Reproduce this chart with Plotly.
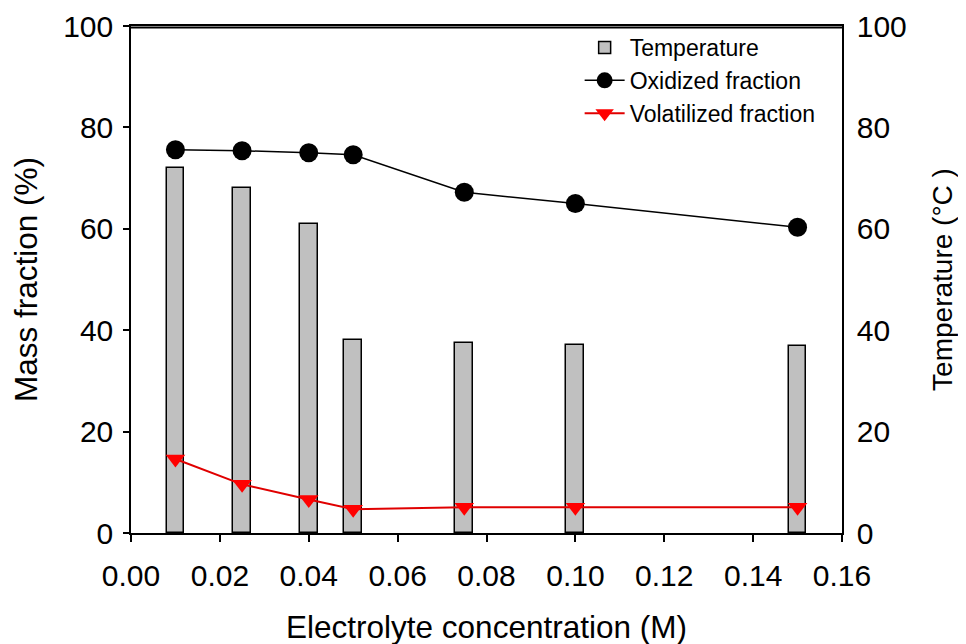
import plotly.graph_objects as go

concentration = [0.01, 0.025, 0.04, 0.05, 0.075, 0.10, 0.15]
temperature = [72.0, 68.0, 61.0, 38.0, 37.5, 37.0, 36.8]
oxidized = [75.6, 75.4, 75.0, 74.6, 67.2, 65.0, 60.3]
volatilized = [14.6, 9.6, 6.6, 4.7, 5.1, 5.1, 5.1]

x_ticks = [0.00, 0.02, 0.04, 0.06, 0.08, 0.10, 0.12, 0.14, 0.16]
y_ticks = [0, 20, 40, 60, 80, 100]

FONT = "Liberation Sans, Arial, sans-serif"

fig = go.Figure()
fig.add_trace(go.Bar(
    x=concentration, y=temperature, name="Temperature", width=0.004,
    marker=dict(color="#c0c0c0", line=dict(color="black", width=1.5)),
    yaxis="y",
))
fig.add_trace(go.Scatter(
    x=concentration, y=oxidized, name="Oxidized fraction", mode="lines+markers",
    line=dict(color="black", width=1.5),
    marker=dict(symbol="circle", size=19, color="black"),
    yaxis="y2",
))
fig.add_trace(go.Scatter(
    x=concentration, y=volatilized, name="Volatilized fraction", mode="lines+markers",
    line=dict(color="#e00000", width=2),
    marker=dict(symbol="triangle-down", size=17, color="#ff0000"),
    yaxis="y2",
))

fig.update_layout(
    width=966, height=644,
    margin=dict(l=123, r=132, t=18, b=119, autoexpand=False),
    paper_bgcolor="white", plot_bgcolor="white",
    font=dict(family=FONT, size=30, color="black"),
    showlegend=True,
    legend=dict(x=0.631, y=1.0, xanchor="left", yanchor="top",
                font=dict(size=23), bgcolor="rgba(0,0,0,0)", borderwidth=0,
                tracegroupgap=0, itemwidth=40),
    bargap=0,
    xaxis=dict(
        range=[0, 0.16], tickvals=x_ticks, tickformat=".2f", automargin=False,
        showline=True, linecolor="black", linewidth=1.5, mirror=True,
        ticks="outside", ticklen=7, tickcolor="black", tickwidth=1.5,
        ticklabelstandoff=8, ticklabeloverflow="allow",
        showgrid=False, zeroline=False,
        title=dict(text="Electrolyte concentration (M)", font=dict(size=31.5), standoff=25),
    ),
    yaxis=dict(
        range=[0, 100], tickvals=y_ticks, side="right", automargin=False,
        showline=True, linecolor="black", linewidth=1.5,
        ticks="", showgrid=False, zeroline=False, ticklabelstandoff=7,
        ticklabeloverflow="allow",
        title=dict(text="Temperature (°C )", font=dict(size=28), standoff=27),
    ),
    yaxis2=dict(
        range=[0, 100], tickvals=y_ticks, side="left", overlaying="y", automargin=False,
        showline=True, linecolor="black", linewidth=1.5,
        ticks="outside", ticklen=6, tickcolor="black", tickwidth=1.5,
        ticklabelstandoff=4, ticklabeloverflow="allow",
        showgrid=False, zeroline=False,
        title=dict(text="Mass fraction (%)", font=dict(size=31.5), standoff=28),
    ),
    shapes=[dict(type="line", xref="paper", yref="paper", x0=0, x1=1, y0=0.997, y1=0.997,
                 line=dict(color="black", width=2), layer="above")],
)

fig.write_html("out.html")
